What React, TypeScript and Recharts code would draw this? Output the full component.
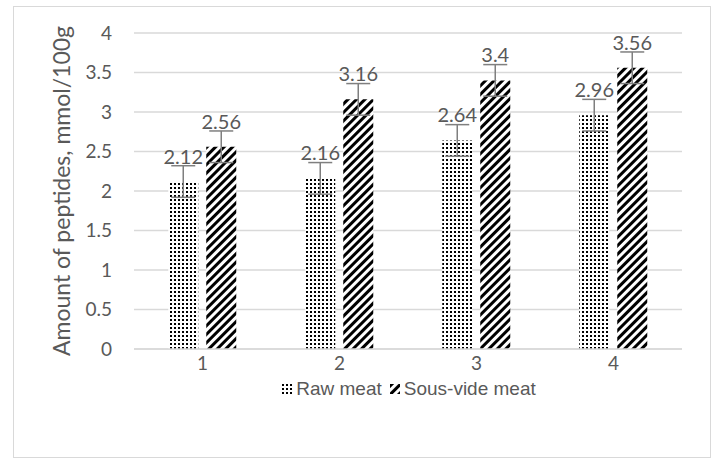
import React from "react";
import {
  Bar,
  BarChart,
  CartesianGrid,
  ErrorBar,
  LabelList,
  Legend,
  XAxis,
  YAxis,
} from "recharts";

const categories = ["1", "2", "3", "4"];
const rawMeat = [2.12, 2.16, 2.64, 2.96];
const sousVideMeat = [2.56, 3.16, 3.4, 3.56];
const rawMeatError = [0.2, 0.2, 0.2, 0.2];
const sousVideError = [0.2, 0.2, 0.2, 0.2];
const yTicks = [0, 0.5, 1, 1.5, 2, 2.5, 3, 3.5, 4];

const data = categories.map((c, i) => ({
  name: c,
  raw: rawMeat[i],
  rawErr: rawMeatError[i],
  sous: sousVideMeat[i],
  sousErr: sousVideError[i],
}));

const textColor = "#595959";
const tickFont = "Lato, 'Open Sans', sans-serif";

const Patterns = ({ prefix }: { prefix: string }) => (
  <defs>
    <pattern
      id={prefix + "dots"}
      width={4}
      height={4}
      patternUnits="userSpaceOnUse"
    >
      <rect width={4} height={4} fill="#fff" />
      <rect x={0} y={0} width={2} height={2} fill="#000" />
    </pattern>
    <pattern
      id={prefix + "stripes"}
      width={6}
      height={6}
      patternUnits="userSpaceOnUse"
      patternTransform="rotate(45)"
    >
      <rect width={6} height={6} fill="#fff" />
      <rect x={0} y={0} width={3} height={6} fill="#000" />
    </pattern>
  </defs>
);

const LegendContent = () => {
  const items = [
    { label: "Raw meat", fill: "lg-dots" },
    { label: "Sous-vide meat", fill: "lg-stripes" },
  ];
  return (
    <div
      style={{
        display: "flex",
        justifyContent: "center",
        alignItems: "center",
        paddingLeft: 130,
        fontFamily: "'Liberation Sans', Arial, sans-serif",
        fontSize: 19,
        lineHeight: "20px",
        color: textColor,
      }}
    >
      {items.map((it) => (
        <span
          key={it.label}
          style={{ display: "flex", alignItems: "center", marginRight: 8 }}
        >
          <svg width={10} height={10} style={{ marginRight: 4 }}>
            <Patterns prefix="lg-" />
            <rect width={10} height={10} fill={`url(#${it.fill})`} />
          </svg>
          {it.label}
        </span>
      ))}
    </div>
  );
};

export default function App() {
  return (
    <div
      style={{
        position: "absolute",
        left: 13,
        top: 6,
        width: 698,
        height: 452,
        border: "1px solid #d9d9d9",
        boxSizing: "border-box",
        background: "#fff",
      }}
    >
      <BarChart
        width={696}
        height={450}
        data={data}
        margin={{ top: 26, right: 28, left: 0, bottom: 58 }}
        barCategoryGap="25%"
        barGap={8}
      >
        <Patterns prefix="ch-" />
        <CartesianGrid vertical={false} stroke="#d9d9d9" strokeWidth={1.5} />
        <XAxis
          dataKey="name"
          tickLine={false}
          axisLine={{ stroke: "#d9d9d9", strokeWidth: 1.5 }}
          tick={{ fill: textColor, fontSize: 19, fontFamily: tickFont }}
          tickMargin={2}
          height={30}
        />
        <YAxis
          domain={[0, 4]}
          ticks={yTicks}
          width={120}
          axisLine={false}
          tickLine={false}
          tickSize={0}
          tickMargin={22}
          tick={{ fill: textColor, fontSize: 19, fontFamily: tickFont }}
          label={{
            value: "Amount of peptides, mmol/100g",
            angle: -90,
            position: "insideLeft",
            dx: 43,
            dy: 0,
            style: {
              fill: textColor,
              fontSize: 23,
              fontFamily: tickFont,
              textAnchor: "middle",
            },
          }}
        />
        <Legend
          verticalAlign="bottom"
          content={<LegendContent />}
          wrapperStyle={{ bottom: 58 }}
        />
        <Bar dataKey="raw" fill="url(#ch-dots)" isAnimationActive={false}>
          <ErrorBar
            dataKey="rawErr"
            width={12}
            stroke="#7f7f7f"
            strokeWidth={1.5}
          />
          <LabelList
            dataKey="raw"
            position="top"
            offset={18}
            fill={textColor}
            fontSize={20}
            fontFamily={tickFont}
          />
        </Bar>
        <Bar dataKey="sous" fill="url(#ch-stripes)" isAnimationActive={false}>
          <ErrorBar
            dataKey="sousErr"
            width={12}
            stroke="#7f7f7f"
            strokeWidth={1.5}
          />
          <LabelList
            dataKey="sous"
            position="top"
            offset={18}
            fill={textColor}
            fontSize={20}
            fontFamily={tickFont}
          />
        </Bar>
      </BarChart>
    </div>
  );
}
